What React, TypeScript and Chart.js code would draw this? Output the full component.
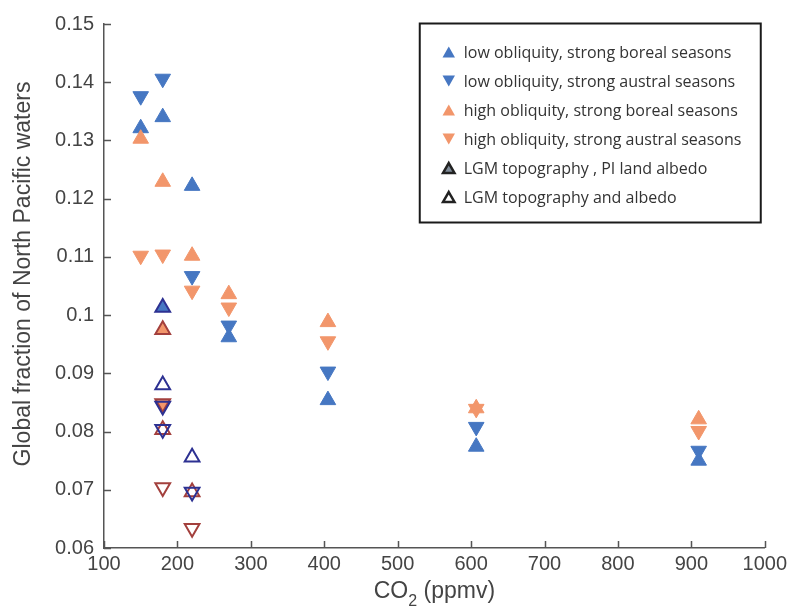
import React, { useEffect, useRef } from "react";
import { Chart, registerables } from "chart.js";

Chart.register(...registerables);

// ---------- data ----------
const co2Ppmv = [150, 180, 220, 270, 405, 607, 910];
const lowObliquityBoreal = [0.1321, 0.134, 0.1222, 0.0962, 0.0854, 0.0774, 0.075];
const lowObliquityAustral = [0.1376, 0.1406, 0.1067, 0.0982, 0.0903, 0.0808, 0.0767];
const highObliquityBoreal = [0.1303, 0.1229, 0.1102, 0.1036, 0.0988, 0.084, 0.0821];
const highObliquityAustral = [0.1102, 0.1104, 0.1042, 0.1013, 0.0955, 0.0839, 0.0801];

// LGM topography, PI land albedo (filled, outlined)
const lgmPiBlueUpX = [180];
const lgmPiBlueUpY = [0.1013];
const lgmPiOrangeUpX = [180];
const lgmPiOrangeUpY = [0.0975];
const lgmPiOrangeDownX = [180];
const lgmPiOrangeDownY = [0.0848];

// LGM topography and albedo (open)
const lgmBlueUpX = [180, 220];
const lgmBlueUpY = [0.088, 0.0756];
const lgmBlueDownX = [180, 180, 220];
const lgmBlueDownY = [0.0844, 0.0804, 0.0696];
const lgmRedUpX = [180, 220];
const lgmRedUpY = [0.0803, 0.0696];
const lgmRedDownX = [180, 220];
const lgmRedDownY = [0.0704, 0.0634];

const xTickValues = [100, 200, 300, 400, 500, 600, 700, 800, 900, 1000];
const yTickValues = [0.06, 0.07, 0.08, 0.09, 0.1, 0.11, 0.12, 0.13, 0.14, 0.15];

const legendLabels = [
  "low obliquity, strong boreal seasons",
  "low obliquity, strong austral seasons",
  "high obliquity, strong boreal seasons",
  "high obliquity, strong austral seasons",
  "LGM topography , PI land albedo",
  "LGM topography and albedo",
];
const yTitle = "Global fraction of North Pacific waters";
const xTitleMain = "CO";
const xTitleSub = "2";
const xTitleRest = " (ppmv)";

// ---------- styles ----------
const BLUE = "#4677C2";
const ORANGE = "#F2966B";
const NAVY = "#2D3192";
const DARKRED = "#A3403D";
const AXIS = "#555555";
const TEXT = "#444444";
const SANS = "'Liberation Sans', Arial, Helvetica, sans-serif";

const legendStyles = [
  { down: false, fill: BLUE, stroke: null, lw: 0 },
  { down: true, fill: BLUE, stroke: null, lw: 0 },
  { down: false, fill: ORANGE, stroke: null, lw: 0 },
  { down: true, fill: ORANGE, stroke: null, lw: 0 },
  { down: false, fill: "#7E8A97", stroke: "#222222", lw: 2.5 },
  { down: false, fill: "#ffffff", stroke: "#222222", lw: 2.5 },
];

function pts(xs: number[], ys: number[]) {
  return xs.map((x, i) => ({ x, y: ys[i] }));
}

function tri(ctx: CanvasRenderingContext2D, x: number, y: number, r: number, down: boolean, fill: string | null, stroke: string | null, lw: number) {
  const s = down ? -1 : 1;
  ctx.beginPath();
  ctx.moveTo(x, y - s * r);
  ctx.lineTo(x + r * 0.866, y + (s * r) / 2);
  ctx.lineTo(x - r * 0.866, y + (s * r) / 2);
  ctx.closePath();
  if (fill) {
    ctx.fillStyle = fill;
    ctx.fill();
  }
  if (stroke && lw > 0) {
    ctx.lineWidth = lw;
    ctx.strokeStyle = stroke;
    ctx.lineJoin = "miter";
    ctx.stroke();
  }
}

function filledSet(label: string, data: any[], color: string, down: boolean, order: number) {
  return {
    label,
    data,
    showLine: false,
    pointStyle: "triangle",
    pointRotation: down ? 180 : 0,
    pointRadius: 9,
    pointHoverRadius: 9,
    pointBackgroundColor: color,
    pointBorderColor: color,
    pointBorderWidth: 1,
    order,
  };
}

function outlinedSet(label: string, data: any[], fill: string, stroke: string, down: boolean, order: number) {
  return {
    label,
    data,
    showLine: false,
    pointStyle: "triangle",
    pointRotation: down ? 180 : 0,
    pointRadius: 8.5,
    pointHoverRadius: 8.5,
    pointBackgroundColor: fill,
    pointBorderColor: stroke,
    pointBorderWidth: 2,
    order,
  };
}

const decorPlugin = {
  id: "decor",
  afterDraw(chart: any) {
    const { ctx, chartArea, scales } = chart;
    const xs = scales.x;
    const ys = scales.y;
    ctx.save();
    // inward ticks
    ctx.strokeStyle = AXIS;
    ctx.lineWidth = 1.5;
    ctx.beginPath();
    xTickValues.forEach((v) => {
      const px = Math.round(xs.getPixelForValue(v)) + 0.5;
      ctx.moveTo(px, chartArea.bottom);
      ctx.lineTo(px, chartArea.bottom - 7);
    });
    yTickValues.forEach((v) => {
      const py = Math.round(ys.getPixelForValue(v)) + 0.5;
      ctx.moveTo(chartArea.left, py);
      ctx.lineTo(chartArea.left + 7, py);
    });
    ctx.stroke();

    // y title
    ctx.fillStyle = TEXT;
    ctx.font = `23px ${SANS}`;
    ctx.textAlign = "center";
    ctx.textBaseline = "alphabetic";
    ctx.translate(30, 274);
    ctx.rotate(-Math.PI / 2);
    ctx.fillText(yTitle, 0, 0);
    ctx.setTransform(1, 0, 0, 1, 0, 0);

    // x title with subscript
    const mainFont = `23px ${SANS}`;
    const subFont = `16px ${SANS}`;
    ctx.font = mainFont;
    const w1 = ctx.measureText(xTitleMain).width;
    const w3 = ctx.measureText(xTitleRest).width;
    ctx.font = subFont;
    const w2 = ctx.measureText(xTitleSub).width;
    const total = w1 + w2 + w3;
    const cx = (chartArea.left + chartArea.right) / 2;
    let x0 = cx - total / 2;
    const base = 598;
    ctx.textAlign = "left";
    ctx.font = mainFont;
    ctx.fillText(xTitleMain, x0, base);
    x0 += w1;
    ctx.font = subFont;
    ctx.fillText(xTitleSub, x0, base + 8);
    x0 += w2;
    ctx.font = mainFont;
    ctx.fillText(xTitleRest, x0, base);

    // legend box
    const bw = 341;
    const bh = 199;
    const bx = chartArea.right - 4 - bw;
    const by = chartArea.top - 0.5;
    ctx.fillStyle = "#ffffff";
    ctx.fillRect(bx, by, bw, bh);
    ctx.strokeStyle = "#1a1a1a";
    ctx.lineWidth = 2;
    ctx.strokeRect(bx, by, bw, bh);
    ctx.font = `16px 'Open Sans', 'Noto Sans', sans-serif`;
    ctx.textBaseline = "middle";
    ctx.textAlign = "left";
    legendLabels.forEach((label, i) => {
      const cy = by + 28.5 + i * 29;
      const st = legendStyles[i];
      const r = st.stroke ? 6.6 : 7.2;
      const centroidY = st.down ? cy - r / 4 : cy + r / 4;
      tri(ctx, bx + 29, centroidY, r, st.down, st.fill, st.stroke, st.lw);
      ctx.fillStyle = "#333333";
      ctx.fillText(label, bx + 44, cy + 1);
    });
    ctx.restore();
  },
};

export default function App() {
  const ref = useRef<HTMLCanvasElement | null>(null);

  useEffect(() => {
    if (!ref.current) return;
    const chart = new Chart(ref.current, {
      type: "scatter",
      data: {
        datasets: [
          outlinedSet("LGM topography and albedo (blue, up)", pts(lgmBlueUpX, lgmBlueUpY), "rgba(0,0,0,0)", NAVY, false, 0),
          outlinedSet("LGM topography and albedo (blue, down)", pts(lgmBlueDownX, lgmBlueDownY), "rgba(0,0,0,0)", NAVY, true, 0),
          outlinedSet("LGM topography and albedo (red, up)", pts(lgmRedUpX, lgmRedUpY), "rgba(0,0,0,0)", DARKRED, false, 0),
          outlinedSet("LGM topography and albedo (red, down)", pts(lgmRedDownX, lgmRedDownY), "rgba(0,0,0,0)", DARKRED, true, 0),
          outlinedSet("LGM topography , PI land albedo (blue, up)", pts(lgmPiBlueUpX, lgmPiBlueUpY), BLUE, NAVY, false, 1),
          outlinedSet("LGM topography , PI land albedo (orange, up)", pts(lgmPiOrangeUpX, lgmPiOrangeUpY), ORANGE, DARKRED, false, 1),
          outlinedSet("LGM topography , PI land albedo (orange, down)", pts(lgmPiOrangeDownX, lgmPiOrangeDownY), ORANGE, DARKRED, true, 1),
          filledSet(legendLabels[3], pts(co2Ppmv, highObliquityAustral), ORANGE, true, 2),
          filledSet(legendLabels[2], pts(co2Ppmv, highObliquityBoreal), ORANGE, false, 2),
          filledSet(legendLabels[1], pts(co2Ppmv, lowObliquityAustral), BLUE, true, 3),
          filledSet(legendLabels[0], pts(co2Ppmv, lowObliquityBoreal), BLUE, false, 3),
        ] as any,
      },
      options: {
        responsive: false,
        animation: false,
        events: [],
        layout: { padding: { top: 24, right: 24, left: 0, bottom: 0 } },
        plugins: {
          legend: { display: false },
          tooltip: { enabled: false },
          title: { display: false },
        },
        scales: {
          x: {
            type: "linear",
            min: 100,
            max: 1000,
            afterBuildTicks: (scale: any) => {
              scale.ticks = xTickValues.map((v) => ({ value: v }));
            },
            afterFit: (scale: any) => {
              scale.height = 62;
            },
            grid: { display: false, drawTicks: false },
            border: { display: true, color: AXIS, width: 1.5 },
            ticks: {
              padding: 4,
              color: TEXT,
              font: { family: SANS, size: 20 },
              maxRotation: 0,
              autoSkip: false,
              callback: (v: any) => String(v),
            },
          },
          y: {
            type: "linear",
            min: 0.06,
            max: 0.15,
            afterBuildTicks: (scale: any) => {
              scale.ticks = yTickValues.map((v) => ({ value: v }));
            },
            afterFit: (scale: any) => {
              scale.width = 104;
            },
            grid: { display: false, drawTicks: false },
            border: { display: true, color: AXIS, width: 1.5 },
            ticks: {
              padding: 10,
              color: TEXT,
              font: { family: SANS, size: 20 },
              autoSkip: false,
              callback: (v: any) => String(Number(Number(v).toFixed(2))),
            },
          },
        },
      } as any,
      plugins: [decorPlugin],
    });
    return () => chart.destroy();
  }, []);

  return (
    <div style={{ position: "absolute", left: 0, top: 0, width: 791, height: 610, background: "#ffffff" }}>
      <canvas ref={ref} width={791} height={610} style={{ display: "block", width: 791, height: 610 }} />
    </div>
  );
}
